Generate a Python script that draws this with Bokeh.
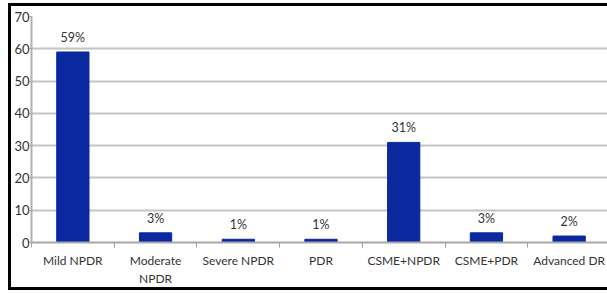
from bokeh.plotting import figure
from bokeh.models import FixedTicker, ColumnDataSource, Range1d
from bokeh.embed import file_html
from bokeh.resources import INLINE
from bokeh.core.properties import value

categories = ["Mild NPDR", "Moderate\nNPDR", "Severe NPDR", "PDR", "CSME+NPDR", "CSME+PDR", "Advanced DR"]
percent = [59, 3, 1, 1, 31, 3, 2]
y_ticks = [0, 10, 20, 30, 40, 50, 60, 70]

n = len(categories)
centers = [i + 0.5 for i in range(n)]
bounds = [float(i) for i in range(n + 1)]

src = ColumnDataSource(dict(x=centers, top=percent, lab=[f"{v}%" for v in percent]))

FONT = "Lato"

p = figure(width=599, height=287, output_backend="svg", toolbar_location=None,
           x_range=Range1d(0, n), y_range=Range1d(0, 70),
           min_border_left=14, min_border_right=0, min_border_top=10, min_border_bottom=51,
           styles={"border": "3px solid black", "border-right": "none", "box-sizing": "border-box",
                   "margin-left": "8px", "margin-top": "3px"})
p.outline_line_color = None
p.background_fill_color = "white"

p.vbar(x="x", top="top", width=0.39, bottom=0, source=src, fill_color="#0a28a0", line_color="#0a28a0")
p.text(x="x", y="top", text="lab", source=src, text_align="center", text_baseline="bottom",
       y_offset=-7, text_font=value(FONT), text_font_size="12.5px", text_color="#333333")

p.xgrid.visible = False
p.ygrid.grid_line_color = "#c4c4c4"
p.ygrid.grid_line_width = 2

xa = p.xaxis[0]
xa.ticker = FixedTicker(ticks=centers, minor_ticks=bounds)
xa.major_label_overrides = {c: lab for c, lab in zip(centers, categories)}
xa.major_tick_line_color = None
xa.minor_tick_line_color = "#a0a0a0"
xa.minor_tick_out = 5
xa.minor_tick_in = 0
xa.axis_line_color = "#a8a8a8"
xa.axis_line_width = 2
xa.major_label_text_font = FONT
xa.major_label_text_font_size = "12px"
xa.major_label_text_color = "#333333"
xa.major_label_standoff = 4

ya = p.yaxis[0]
ya.ticker = FixedTicker(ticks=y_ticks)
ya.minor_tick_line_color = None
ya.major_tick_line_color = "#a0a0a0"
ya.major_tick_out = 2
ya.major_tick_in = 0
ya.axis_line_color = "#b0b0b0"
ya.axis_line_width = 2
ya.major_label_text_font = FONT
ya.major_label_text_font_size = "13px"
ya.major_label_text_color = "#333333"
ya.major_label_standoff = 0

open("out.html", "w").write(file_html(p, INLINE))
